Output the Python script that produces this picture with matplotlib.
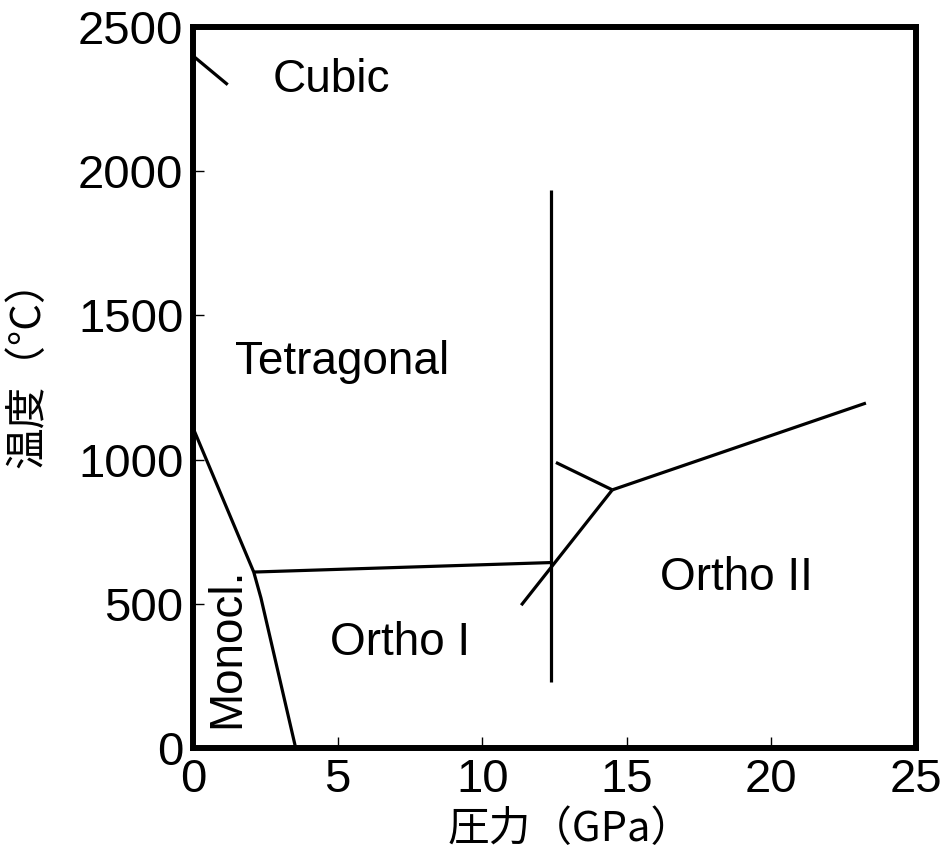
import matplotlib
matplotlib.use("Agg")
import matplotlib.pyplot as plt

plt.rcParams['font.family'] = ['Liberation Sans', 'DejaVu Sans']

# phase boundaries (pressure GPa, temperature degC)
cubic_tet_p = [0.0, 1.2]
cubic_tet_t = [2400, 2300]

tet_mono_p = [0.0, 2.1, 2.35, 3.55]
tet_mono_t = [1110, 610, 520, 0]

mono_ortho_p = [2.1, 12.4]
mono_ortho_t = [610, 643]

vertical_p = [12.38, 12.38]
vertical_t = [230, 1935]

ortho_diag_p = [11.35, 14.5]
ortho_diag_t = [495, 895]

tet_corner_p = [12.55, 14.5]
tet_corner_t = [990, 895]

ortho2_p = [14.5, 23.27]
ortho2_t = [895, 1196]

phase_names = ["Cubic", "Tetragonal", "Ortho I", "Ortho II"]
phase_p = [4.77, 5.15, 7.16, 18.78]
phase_t = [2316, 1338, 364, 589]

xticks = [0, 5, 10, 15, 20, 25]
yticks = [0, 500, 1000, 1500, 2000, 2500]

fig = plt.figure(figsize=(9.48, 8.52), dpi=100)
ax = fig.add_axes([0.2036, 0.1221, 0.7626, 0.8462])

lw = 2.3
for p, t in [(cubic_tet_p, cubic_tet_t), (tet_mono_p, tet_mono_t),
             (mono_ortho_p, mono_ortho_t), (vertical_p, vertical_t),
             (ortho_diag_p, ortho_diag_t), (tet_corner_p, tet_corner_t),
             (ortho2_p, ortho2_t)]:
    ax.plot(p, t, color='black', lw=lw, solid_capstyle='butt')

for name, p, t in zip(phase_names, phase_p, phase_t):
    ax.text(p, t, name, fontsize=33, ha='center', va='center')
ax.text(1.18, 347, "Monocl.", fontsize=33, ha='center', va='center', rotation=90)

ax.set_xlim(0, 25)
ax.set_ylim(0, 2500)
ax.set_xticks(xticks)
ax.set_yticks(yticks)
ax.tick_params(direction='in', length=8, width=1, labelsize=34, pad=7)
for s in ax.spines.values():
    s.set_linewidth(4.3)

cjk = ['Noto Sans CJK JP', 'DejaVu Sans']
ax.set_xlabel("圧力（GPa）", fontsize=30, family=cjk)
ax.set_ylabel("温度（°C）", fontsize=30, family=cjk)
ax.xaxis.set_label_coords(0.522, -0.085)
ax.yaxis.set_label_coords(-0.2, 0.533)

fig.savefig("out.png", dpi=100)
